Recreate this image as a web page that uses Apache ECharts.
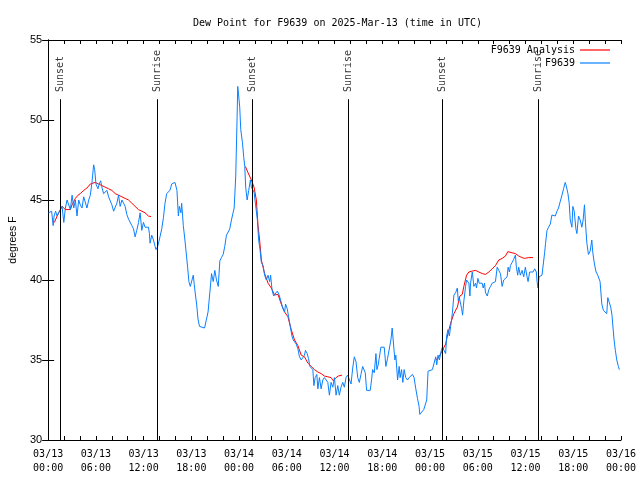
<!DOCTYPE html>
<html><head><meta charset="utf-8">
<script src="https://cdn.jsdelivr.net/npm/echarts@6/dist/echarts.min.js"></script>
<style>html,body{margin:0;padding:0;background:#fff}#c{width:640px;height:480px}</style>
</head><body><div id="c"></div>
<script>
const titleText = 'Dew Point for F9639 on 2025-Mar-13 (time in UTC)';
const xTickLabels = ['03/13\n00:00','03/13\n06:00','03/13\n12:00','03/13\n18:00','03/14\n00:00','03/14\n06:00','03/14\n12:00','03/14\n18:00','03/15\n00:00','03/15\n06:00','03/15\n12:00','03/15\n18:00','03/16\n00:00'];
const sunEventHours = [1.54, 13.74, 25.63, 37.73, 49.50, 61.65];
const sunEventNames = ['Sunset','Sunrise','Sunset','Sunrise','Sunset','Sunrise'];

const analysisHours = [0.79,1.13,1.54,1.75,2.17,2.79,3.01,3.42,3.76,4.04,4.47,4.88,5.30,5.51,5.92,6.35,6.76,7.18,7.60,8.01,8.43,8.85,9.27,9.68,10.11,10.52,10.93,11.36,11.77,12.18,12.61,12.94,
 18,
 24.79,25.13,25.54,25.88,26.17,26.38,26.58,26.80,27.21,27.64,28.05,28.46,28.89,29.30,29.72,30.14,30.55,30.97,31.39,31.81,32.22,32.65,33.06,33.47,33.90,34.31,34.72,35.15,35.56,35.85,36.19,36.48,36.94,
 42,
 48.71,49.13,49.55,49.96,50.18,50.59,51.00,51.43,51.75,52.05,52.25,52.59,52.88,53.31,53.72,54.13,54.56,54.97,55.39,55.81,56.22,56.64,57.06,57.48,57.77,58.32,58.73,59.14,59.57,59.86,60.39,60.95];
const analysisValues = [43.6,44.0,44.4,44.6,44.4,44.4,44.7,45.1,45.3,45.4,45.6,45.75,46.0,46.1,46.1,46.0,45.9,45.8,45.7,45.6,45.4,45.3,45.2,45.1,45.0,44.8,44.6,44.4,44.3,44.2,44.0,43.96,
 '-',
 47.1,46.7,46.25,45.8,45.0,43.4,42.5,41.25,40.4,39.8,39.5,39.06,39.1,38.5,38.0,37.7,36.9,36.25,35.9,35.3,35.2,34.8,34.6,34.4,34.25,34.15,34.0,33.95,33.9,33.7,33.9,34.0,34.06,
 '-',
 35.0,35.2,35.6,36.0,36.5,37.3,37.9,38.3,39.0,39.1,39.6,40.3,40.5,40.56,40.6,40.5,40.4,40.35,40.5,40.7,40.9,41.25,41.35,41.5,41.77,41.7,41.65,41.5,41.4,41.35,41.4,41.4];

const obsHours = [0.05,0.25,0.44,0.63,0.75,0.94,1.13,1.31,1.54,1.75,1.97,2.17,2.38,2.59,2.79,3.01,3.22,3.42,3.63,3.84,4.04,4.26,4.47,4.67,4.88,5.10,5.30,5.51,5.72,5.85,6.01,6.26,6.42,6.60,6.76,6.97,7.18,7.39,7.60,7.80,8.01,8.23,8.43,8.64,8.85,9.05,9.27,9.48,9.68,9.89,10.11,10.31,10.52,10.73,10.93,11.14,11.36,11.56,11.77,11.98,12.18,12.40,12.61,12.73,12.81,13.02,13.24,13.44,13.56,13.77,14.06,14.28,14.49,14.69,14.90,15.11,15.31,15.53,15.74,15.94,16.12,16.19,16.37,16.49,16.69,16.78,16.99,17.19,17.41,17.53,17.69,17.87,18.03,18.24,18.37,18.53,18.66,18.85,19.03,19.28,19.66,19.91,20.10,20.32,20.54,20.75,20.95,21.16,21.38,21.58,21.79,22.00,22.20,22.41,22.63,22.83,23.04,23.38,23.58,23.75,23.83,23.95,24.08,24.21,24.42,24.58,24.71,24.83,25.01,25.21,25.42,25.54,25.76,25.88,26.05,26.30,26.46,26.63,26.80,27.01,27.21,27.42,27.64,27.84,27.96,28.14,28.34,28.59,28.80,29.01,29.21,29.51,29.72,29.84,30.05,30.22,30.43,30.64,30.80,30.97,31.18,31.39,31.59,31.81,32.02,32.22,32.34,32.56,32.72,32.90,33.06,33.27,33.40,33.56,33.77,33.90,34.10,34.31,34.52,34.72,34.94,35.15,35.35,35.56,35.78,35.98,36.19,36.40,36.60,36.81,37.03,37.23,37.44,37.65,37.85,38.07,38.28,38.48,38.69,38.91,39.11,39.32,39.53,39.73,39.86,40.03,40.23,40.48,40.66,40.78,40.99,41.20,41.32,41.49,41.61,41.82,42.04,42.24,42.45,42.66,42.86,43.08,43.24,43.41,43.58,43.70,43.92,44.12,44.24,44.42,44.58,44.74,44.95,45.17,45.37,45.58,45.79,45.99,46.21,46.42,46.62,46.71,46.96,47.21,47.37,47.58,47.75,48.00,48.30,48.50,48.71,48.84,49.00,49.17,49.42,49.55,49.75,49.96,50.09,50.25,50.43,50.59,50.80,50.93,51.00,51.21,51.43,51.55,51.68,51.84,51.97,52.09,52.25,52.47,52.59,52.72,52.88,53.01,53.09,53.31,53.51,53.72,53.84,54.01,54.18,54.35,54.56,54.68,54.85,54.97,55.19,55.39,55.60,55.81,56.01,56.22,56.44,56.64,56.85,57.06,57.26,57.48,57.69,57.81,57.98,58.10,58.32,58.52,58.73,58.85,59.02,59.14,59.35,59.57,59.77,59.98,60.19,60.32,60.52,60.73,60.95,61.15,61.36,61.45,61.57,61.70,61.86,62.07,62.27,62.40,62.52,62.70,62.90,63.11,63.32,63.53,63.74,63.95,64.15,64.36,64.58,64.78,64.99,65.11,65.33,65.49,65.62,65.83,65.95,66.12,66.33,66.46,66.66,66.87,67.08,67.24,67.41,67.53,67.71,67.91,68.12,68.33,68.46,68.66,68.87,69.08,69.25,69.37,69.59,69.79,70.00,70.21,70.34,70.50,70.71,70.87,71.00,71.13,71.29,71.47,71.67,71.79];
const obsValues = [44.2,44.3,44.3,43.4,44.0,44.3,44.0,44.2,44.4,44.6,43.6,44.5,45.0,44.9,44.4,45.3,44.5,45.0,44.0,45.0,44.7,44.5,45.2,45.3,44.5,45.0,45.3,46.1,47.2,46.9,46.0,45.7,46.0,46.2,45.8,45.4,45.4,45.6,45.2,45.2,44.7,44.3,44.4,44.8,45.3,44.6,45.0,44.8,44.6,44.1,43.8,43.7,43.4,43.2,42.7,43.1,43.6,44.2,43.1,43.6,43.3,43.3,43.3,42.9,42.3,42.8,42.5,42.1,41.9,42.1,42.7,43.2,43.9,44.8,45.4,45.5,45.6,46.0,46.1,46.1,46.0,45.6,44.0,44.6,44.2,44.8,43.4,42.5,42.6,40.8,39.9,39.6,39.6,40.3,39.7,39.0,38.5,37.5,37.1,37.0,37.0,37.1,38.0,39.2,40.4,39.9,40.6,40.0,39.6,41.2,41.4,41.6,42.1,42.8,43.0,43.2,43.75,44.5,46.5,50.2,52.1,51.5,50.8,49.4,48.6,47.7,47.1,45.8,45.0,45.6,46.25,45.8,45.8,45.5,44.8,43.75,42.5,41.9,41.1,40.9,40.3,40.0,40.3,39.9,40.3,39.4,39.0,39.0,39.3,39.1,38.75,38.2,38.0,38.5,38.2,37.7,37.1,36.5,36.25,36.25,36.0,35.7,35.2,35.0,35.1,35.3,35.6,35.4,35.1,34.6,34.5,34.4,33.4,33.9,34.1,33.2,33.9,33.2,33.75,33.9,33.75,33.6,32.8,33.6,33.3,33.9,32.8,33.4,32.8,33.3,33.6,33.3,33.9,34.06,34.1,33.5,34.5,35.2,34.9,33.9,33.6,34.1,34.6,34.7,34.2,33.1,33.1,33.1,33.8,34.4,34.2,35.4,34.4,34.7,35.1,35.8,35.8,35.8,34.6,35.1,35.2,36.25,37.0,36.0,35.0,35.3,33.75,34.6,33.9,34.4,33.6,34.4,33.9,33.75,33.9,34.0,34.1,33.9,33.2,32.6,32.1,31.6,31.7,31.9,32.0,32.5,34.3,34.4,34.4,34.4,35.2,34.7,35.3,35.0,35.6,35.8,35.8,35.4,36.5,36.9,36.5,37.1,37.9,37.9,39.06,39.2,39.5,38.7,38.9,38.9,38.2,37.8,38.7,39.6,40.0,40.1,39.8,39.0,39.8,40.5,39.6,39.8,39.5,40.1,39.8,39.7,39.8,39.5,39.8,39.2,39.0,39.4,39.6,39.8,39.8,39.9,40.8,40.6,40.4,39.6,40.0,40.1,40.2,40.8,40.5,40.9,41.1,41.3,41.56,40.8,40.3,40.8,40.3,40.6,40.2,40.8,40.2,39.9,40.5,40.4,40.5,40.7,40.5,39.9,39.5,40.2,40.3,40.3,40.3,41.7,42.3,43.1,43.3,43.5,44.06,44.0,44.0,44.3,44.5,44.9,45.3,45.7,46.1,45.9,45.4,44.8,43.75,43.3,44.6,44.3,43.2,42.9,44.0,43.75,43.3,43.75,44.7,43.6,42.3,41.6,41.8,42.5,41.7,41.0,40.5,40.3,40.4,39.9,38.5,38.1,38.0,37.9,38.9,39.0,38.3,37.8,37.0,36.25,35.6,35.0,34.6,34.4];

const MONO = 'DejaVu Sans Mono';
const chart = echarts.init(document.getElementById('c'), null, {renderer: 'canvas'});
const axisCommon = {
  type: 'value', min: 0, max: 72, interval: 6,
  axisLine: {lineStyle: {color: '#000', width: 1}},
  axisTick: {show: true, inside: true, length: 4, lineStyle: {color: '#000'}},
  minorTick: {show: true, splitNumber: 3, length: 4, lineStyle: {color: '#000'}},
  splitLine: {show: false}
};
const yCommon = {
  type: 'value', min: 30, max: 55, interval: 5,
  axisLine: {show: true, lineStyle: {color: '#000', width: 1}},
  axisTick: {show: true, inside: true, length: 6, lineStyle: {color: '#000'}},
  splitLine: {show: false}
};
chart.setOption({
  animation: false,
  backgroundColor: '#fff',
  title: {text: titleText, left: 188, top: 13,
    textStyle: {fontFamily: MONO, fontSize: 10, fontWeight: 'normal', color: '#000'}},
  legend: {
    data: ['F9639 Analysis', 'F9639'], orient: 'vertical', right: 25, top: 39,
    align: 'right', icon: 'rect', itemWidth: 30, itemHeight: 1.2, itemGap: 1, padding: 5,
    textStyle: {fontFamily: MONO, fontSize: 10, color: '#000', lineHeight: 12}
  },
  grid: {left: 46, right: 19, top: 40, bottom: 40},
  xAxis: [
    Object.assign({}, axisCommon, {position: 'bottom',
      axisLabel: {formatter: v => xTickLabels[Math.round(v / 6)], fontFamily: MONO, fontSize: 10, color: '#000', lineHeight: 14, margin: 7, showMinLabel: true, showMaxLabel: true}}),
    Object.assign({}, axisCommon, {position: 'top', axisLabel: {show: false}})
  ],
  yAxis: [
    Object.assign({}, yCommon, {position: 'left', name: 'degrees F', nameLocation: 'middle', nameRotate: 90, nameGap: 29,
      nameTextStyle: {fontFamily: 'Liberation Sans', fontSize: 10.5, color: '#000'},
      axisLabel: {fontFamily: 'Liberation Sans', fontSize: 11, color: '#000', margin: 6}}),
    Object.assign({}, yCommon, {position: 'right', axisLabel: {show: false}})
  ],
  series: [
    {name: 'F9639 Analysis', type: 'line', symbol: 'none', connectNulls: false,
      lineStyle: {color: '#ff0000', width: 1}, itemStyle: {color: '#ff0000'},
      data: analysisHours.map((h, i) => [h, analysisValues[i]])},
    {name: 'F9639', type: 'line', symbol: 'none',
      lineStyle: {color: '#0a80ff', width: 1}, itemStyle: {color: '#0a80ff'},
      data: obsHours.map((h, i) => [h, obsValues[i]]),
      markLine: {symbol: 'none', silent: true, animation: false,
        lineStyle: {color: '#000', width: 1, type: 'solid'}, label: {show: false},
        data: sunEventHours.map(h => [{coord: [h, 30]}, {coord: [h, 51.3]}])}},
    {name: 'sun', type: 'scatter', symbolSize: 0, silent: true,
      data: sunEventHours.map((h, i) => ({value: [h, 51.75], name: sunEventNames[i]})),
      label: {show: true, formatter: '{b}', position: 'inside', rotate: 90, align: 'left', verticalAlign: 'middle',
        fontFamily: MONO, fontSize: 10, color: '#000'}}
  ]
});
</script></body></html>
